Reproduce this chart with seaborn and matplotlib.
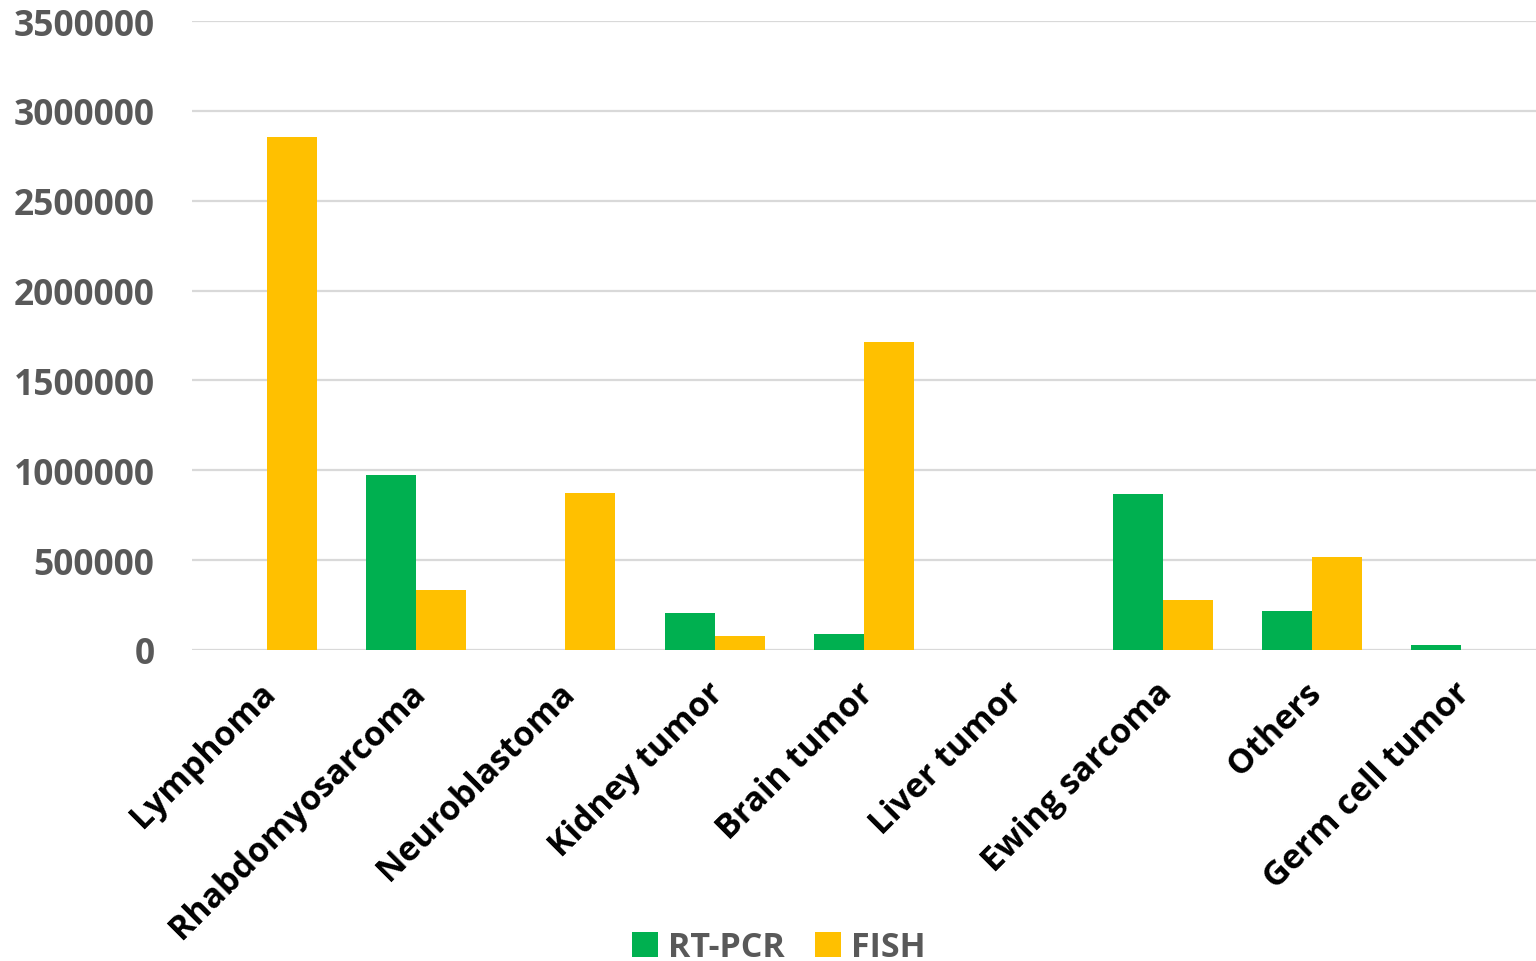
import pandas as pd
import matplotlib
matplotlib.use("Agg")
import matplotlib.pyplot as plt
import matplotlib.transforms as mtransforms
import seaborn as sns

# Werte
categories = ["Lymphoma", "Rhabdomyosarcoma", "Neuroblastoma", "Kidney tumor",
              "Brain tumor", "Liver tumor", "Ewing sarcoma", "Others", "Germ cell tumor"]
rt_pcr = [0, 975000, 0, 206000, 89000, 0, 868000, 217000, 28000]
fish = [2855000, 334000, 874000, 78000, 1714000, 0, 278000, 518000, 0]
series_names = ["RT-PCR", "FISH"]
y_ticks = [0, 500000, 1000000, 1500000, 2000000, 2500000, 3000000, 3500000]

df = pd.DataFrame({
    "category": categories * 2,
    "value": rt_pcr + fish,
    "method": [series_names[0]] * len(categories) + [series_names[1]] * len(categories),
})

sns.set_style("white")
plt.rcParams["font.family"] = ["Open Sans", "DejaVu Sans"]

fig = plt.figure(figsize=(15.36, 9.62), dpi=100)
ax = fig.add_axes([0.125, 0.3233, 0.875, 0.6537])

sns.barplot(data=df, x="category", y="value", hue="method",
            palette=["#00B050", "#FFC000"], width=0.67, saturation=1,
            linewidth=0, ax=ax, legend=True)

ax.set_ylim(0, 3500000)
ax.set_yticks(y_ticks)
ax.set_yticklabels([str(t) for t in y_ticks], fontsize=25.5, fontweight="bold", color="#595959")
ax.yaxis.grid(True, color="#D9D9D9", linewidth=1.6)
ax.set_axisbelow(True)
ax.set_xlim(-0.5, len(categories) - 0.5)
for s in ax.spines.values():
    s.set_visible(False)
ax.tick_params(axis="y", length=0, pad=27)
ax.tick_params(axis="x", length=0, pad=24)
ax.set_xlabel("")
ax.set_ylabel("")
plt.setp(ax.get_xticklabels(), rotation=45, ha="right", rotation_mode="anchor",
         fontsize=24.5, fontweight="bold", color="black")
# Beschriftung etwas nach links oben schieben
shift = mtransforms.ScaledTranslation(-0.08, 0.08, fig.dpi_scale_trans)
for lbl in ax.get_xticklabels():
    lbl.set_transform(lbl.get_transform() + shift)

handles, labels = ax.get_legend_handles_labels()
ax.legend(handles, labels, loc="lower center", bbox_to_anchor=(0.4368, -0.548),
          bbox_transform=ax.transAxes, ncol=2, frameon=False, handlelength=0.75,
          handleheight=0.75, handletextpad=0.3, columnspacing=0.9,
          prop={"size": 24.5, "weight": "bold"}, labelcolor="#595959")

fig.savefig("out.png", dpi=100)
